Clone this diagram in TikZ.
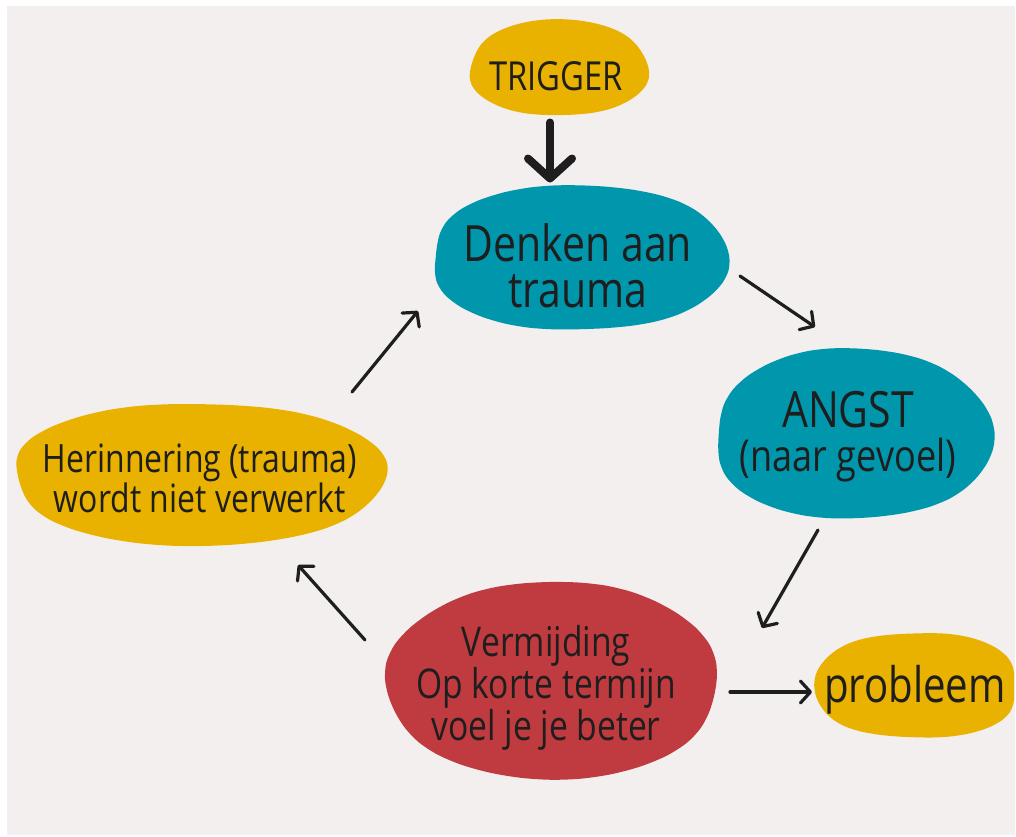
\documentclass[tikz,border=0pt]{standalone}
\usepackage{fontspec}
\newfontfamily\hand[FakeStretch=0.82]{Open Sans}
\usetikzlibrary{arrows.meta,shapes.geometric}
\definecolor{bg}{HTML}{F3EFEE}
\definecolor{yel}{HTML}{E9B200}
\definecolor{teal}{HTML}{0097AD}
\definecolor{rood}{HTML}{C03B3F}
\definecolor{ink}{HTML}{1E1E1E}
% #1 fill, #2 cx, #3 cy, #4 rx, #5 ry, #6 superellipse n, #7 egg, #8 phase
\newcommand\myblob[8]{%
  \fill[#1] plot[smooth cycle, samples=36, domain=0:350, variable=\t]
   ({#2+#4*(1+#7*sin(\t))*cos(\t)*pow(pow(abs(cos(\t))+0.001,#6)+pow(abs(sin(\t))+0.001,#6),-1/#6)*(1+0.02*sin(5*\t+#8))},
    {#3+#5*sin(\t)*pow(pow(abs(cos(\t))+0.001,#6)+pow(abs(sin(\t))+0.001,#6),-1/#6)*(1+0.02*sin(3*\t+#8))});}
\tikzset{
  anchorbox/.style={shape=ellipse, inner sep=0pt, outer sep=0pt},
  txt/.style={align=center, inner sep=0pt, text=ink},
  arr/.style={draw=ink, line width=3.2pt, line cap=round, line join=round,
    -{Straight Barb[length=10pt,width=22pt,round]}},
  bigarr/.style={draw=ink, line width=8pt, line cap=round, line join=round,
    -{Straight Barb[length=20pt,width=44pt,round]}},
}
\begin{document}
\begin{tikzpicture}[x=1pt,y=-1pt]
\useasboundingbox (0,0) rectangle (1016,836);
\fill[white] (0,0) rectangle (1016,836);
\fill[bg] (7,6) rectangle (1015,835);

% blobs
\myblob{yel}{559}{68}{89}{48}{2.2}{0.03}{20}
\myblob{teal}{580}{258}{147}{72}{2.3}{0.0}{60}
\myblob{teal}{854}{433}{138}{85}{2.2}{0.06}{100}
\myblob{yel}{200}{474}{185}{71}{2.2}{0.0}{140}
\myblob{rood}{552}{679}{166}{99}{2.1}{0.05}{200}
\myblob{yel}{916}{685}{100}{52}{2.5}{0.03}{250}

% anchor nodes
\node[anchorbox, minimum width=178pt, minimum height=97pt] (trigger) at (559,68) {};
\node[anchorbox, minimum width=294pt, minimum height=145pt] (denken) at (580,258) {};
\node[anchorbox, minimum width=276pt, minimum height=170pt] (angst) at (854,433) {};
\node[anchorbox, minimum width=370pt, minimum height=142pt] (herin) at (200,474) {};
\node[anchorbox, minimum width=332pt, minimum height=198pt] (verm) at (552,679) {};
\node[anchorbox, minimum width=200pt, minimum height=104pt] (prob) at (916,685) {};

% texts
\node[txt, font={\hand\fontsize{40}{40}\selectfont}] (triggert) at (556,76) {TRIGGER};
\node[txt, font={\hand\fontsize{50}{46}\selectfont}] (denkent) at (578,266) {Denken aan\\trauma};
\node[txt, font={\hand\fontsize{44}{44}\selectfont}] (angstt) at (848,437) {{\fontsize{50}{50}\selectfont ANGST}\\(naar gevoel)};
\node[txt, font={\hand\fontsize{39}{35}\selectfont}] (herint) at (200,478) {Herinnering (trauma)\\wordt niet verwerkt};
\node[txt, font={\hand\fontsize{41}{33}\selectfont}] (vermt) at (546,688) {Vermijding\\Op korte termijn\\voel je je beter};
\node[txt, font={\hand\fontsize{49}{49}\selectfont}] (probt) at (915,690) {probleem};

% connectors
\draw[bigarr] ([shift={(-9,6)}]trigger.south) -- ([shift={(-30,-3)}]denken.north);
\draw[arr] ([shift={(13,18)}]denken.east) -- ([shift={(-39,-21)}]angst.north);
\draw[arr] ([shift={(-36,12)}]angst.south) -- ([shift={(44,-51)}]verm.east);
\draw[arr] ([shift={(12,13)}]verm.east) -- ([shift={(-4,7)}]prob.west);
\draw[arr] ([shift={(-21,-39)}]verm.west) -- ([shift={(98,20)}]herin.south);
\draw[arr] ([shift={(152,-11)}]herin.north) -- ([shift={(-15,53)}]denken.west);
\end{tikzpicture}
\end{document}
